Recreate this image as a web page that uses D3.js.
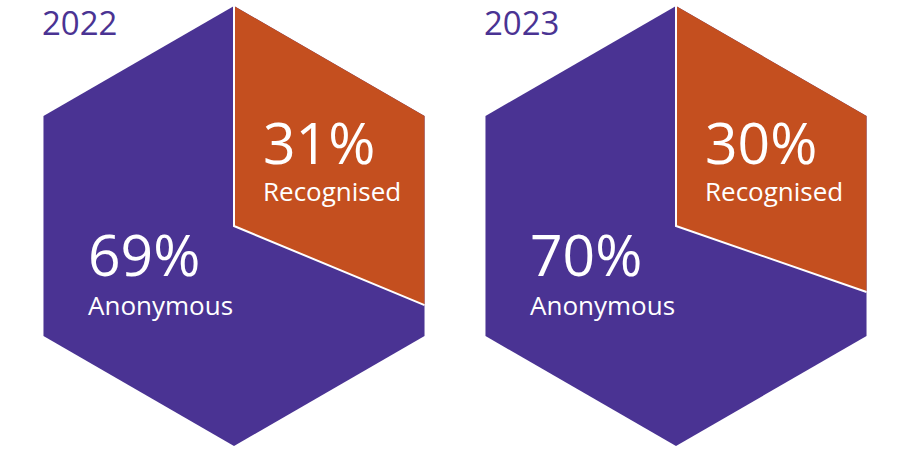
<!DOCTYPE html>
<html>
<head>
<meta charset="utf-8">
<script src="https://cdn.jsdelivr.net/npm/d3@7"></script>
<style>
  body { margin: 0; background: #ffffff; }
  text { font-family: "Open Sans", "Noto Sans", sans-serif; }
</style>
</head>
<body>
<div id="chart"></div>
<script>
// values
const years = ["2022", "2023"];
const recognised = [31, 30];
const anonymous = [69, 70];
const seriesNames = ["Anonymous", "Recognised"];

const width = 900, height = 449;
const purple = "#4a3393", orange = "#c44f1f";
const R = 220, cy = 226;

let svg = d3.select("#chart")
    .append("svg")
    .attr("width", width)
    .attr("height", height);

// hexagon centres
let x = d3.scalePoint().domain(years).range([234, 676]);
// share (0-100) -> position round the perimeter, one unit per edge (each edge = 1/6 of area)
let perim = d3.scaleLinear().domain([0, 100]).range([0, 6]);

function vertex(cx, i) {
    const a = i * Math.PI / 3;
    return [cx + R * Math.sin(a), cy - R * Math.cos(a)];
}

let data = years.map((y, i) => ({year: y, rec: recognised[i], anon: anonymous[i]}));

let g = svg.selectAll("g.hex")
    .data(data)
    .enter()
    .append("g")
    .attr("class", "hex");

g.each(function(d) {
    const cx = x(d.year);
    const sel = d3.select(this);
    const verts = d3.range(6).map(i => vertex(cx, i));

    // whole hexagon = anonymous
    sel.append("path")
        .attr("d", "M" + verts.join("L") + "Z")
        .style("fill", purple);

    // recognised wedge, clockwise from the top vertex
    const p = perim(d.rec);
    const k = Math.floor(p), t = p - k;
    const a = verts[k], b = verts[(k + 1) % 6];
    const end = [a[0] + (b[0] - a[0]) * t, a[1] + (b[1] - a[1]) * t];
    let pts = [[cx, cy]].concat(verts.slice(0, k + 1)).concat([end]);
    sel.append("path")
        .attr("d", "M" + pts.join("L") + "Z")
        .style("fill", orange);

    // white divider
    sel.append("path")
        .attr("d", "M" + verts[0] + "L" + [cx, cy] + "L" + end)
        .style("fill", "none")
        .style("stroke", "#ffffff")
        .style("stroke-width", 2);

    sel.append("text")
        .attr("x", cx - 192).attr("y", 35)
        .style("font-size", "33px")
        .style("font-weight", 500)
        .style("fill", purple)
        .text(d.year);

    sel.append("text")
        .attr("x", cx + 29).attr("y", cy - 62)
        .style("font-size", "57px")
        .style("font-weight", 500)
        .style("fill", "#ffffff")
        .text(d.rec + "%");
    sel.append("text")
        .attr("x", cx + 29).attr("y", cy - 25)
        .style("font-size", "26px")
        .style("font-weight", 500)
        .style("fill", "#ffffff")
        .text(seriesNames[1]);

    sel.append("text")
        .attr("x", cx - 146).attr("y", cy + 50)
        .style("font-size", "57px")
        .style("font-weight", 500)
        .style("fill", "#ffffff")
        .text(d.anon + "%");
    sel.append("text")
        .attr("x", cx - 146).attr("y", cy + 89)
        .style("font-size", "26px")
        .style("font-weight", 500)
        .style("fill", "#ffffff")
        .text(seriesNames[0]);
});
</script>
</body>
</html>
